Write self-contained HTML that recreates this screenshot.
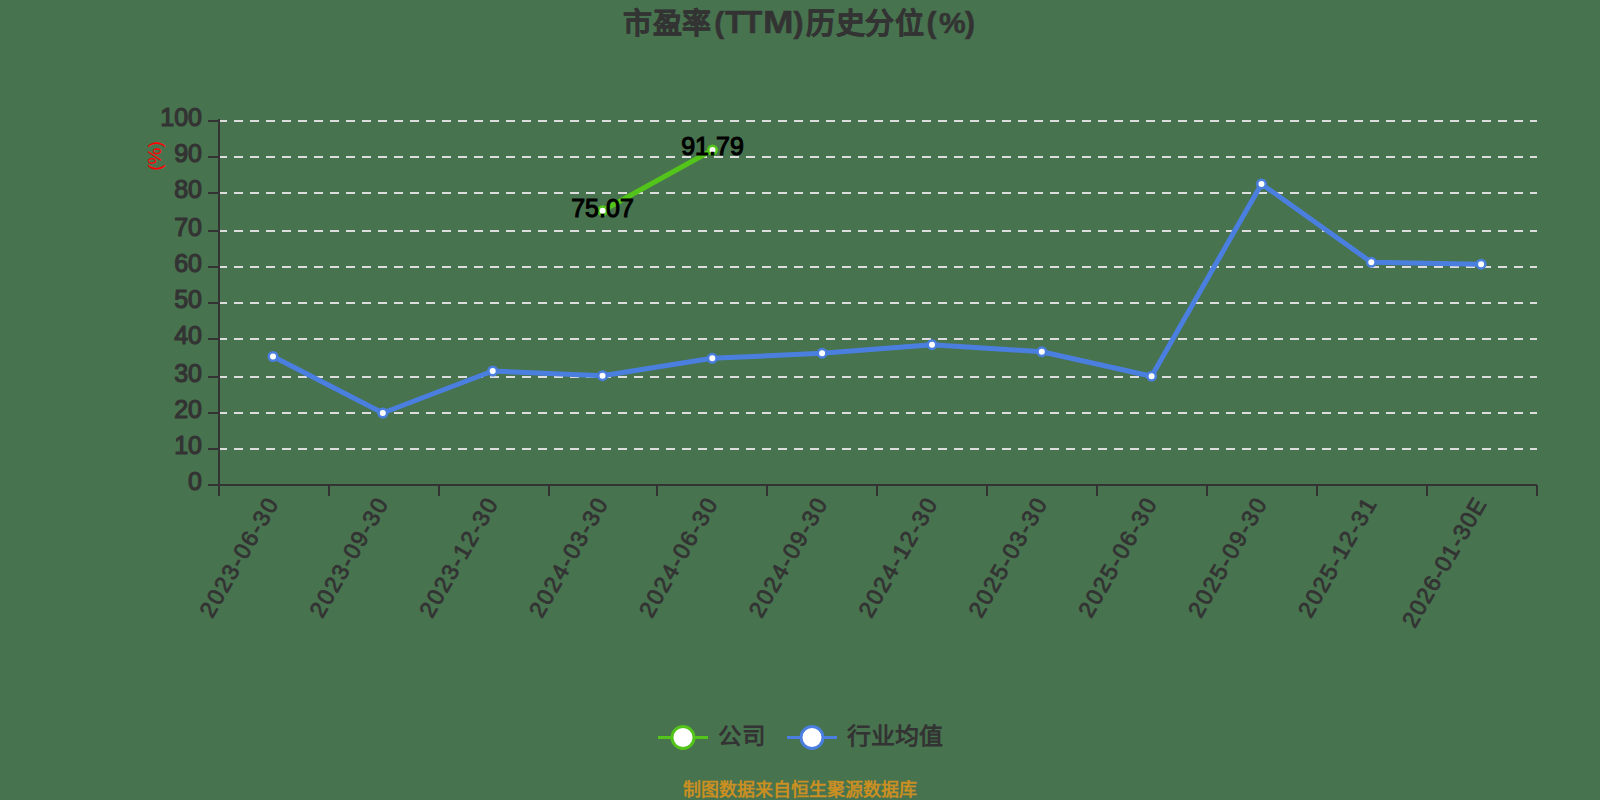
<!DOCTYPE html><html lang="zh-CN"><head><meta charset="utf-8"><style>
html,body{margin:0;padding:0;width:1600px;height:800px;overflow:hidden;background:#48734f}
svg{display:block;font-family:"Liberation Sans",sans-serif}
</style></head><body>
<svg width="1600" height="800" viewBox="0 0 1600 800">
<rect width="1600" height="800" fill="#48734f"/>
<text font-weight="bold" fill="#333" stroke="#333" stroke-width="0.5"><tspan x="623.4" y="34.0" font-size="29">市</tspan><tspan x="653.0" y="34.0" font-size="29">盈</tspan><tspan x="682.0" y="34.0" font-size="29">率</tspan><tspan x="714.3" y="33.0" font-size="30">(</tspan><tspan x="725.0" y="33.0" font-size="32">T</tspan><tspan x="742.8" y="33.0" font-size="32">T</tspan><tspan x="793.4" y="33.0" font-size="30">)</tspan><tspan x="806.2" y="34.0" font-size="29">历</tspan><tspan x="835.6" y="34.0" font-size="29">史</tspan><tspan x="865.0" y="34.0" font-size="29">分</tspan><tspan x="895.0" y="34.0" font-size="29">位</tspan><tspan x="926.5" y="33.0" font-size="30">(</tspan><tspan x="939.0" y="33.0" font-size="30">%</tspan><tspan x="965.0" y="33.0" font-size="30">)</tspan></text>
<text x="763" y="33" font-size="32" font-weight="bold" fill="#333" stroke="#333" stroke-width="0.5" textLength="30.5" lengthAdjust="spacingAndGlyphs">M</text>
<line x1="218" y1="449.00" x2="1537" y2="449.00" stroke="#dddddd" stroke-width="2" stroke-dasharray="9 7"/>
<line x1="218" y1="413.00" x2="1537" y2="413.00" stroke="#dddddd" stroke-width="2" stroke-dasharray="9 7"/>
<line x1="218" y1="377.00" x2="1537" y2="377.00" stroke="#dddddd" stroke-width="2" stroke-dasharray="9 7"/>
<line x1="218" y1="339.00" x2="1537" y2="339.00" stroke="#dddddd" stroke-width="2" stroke-dasharray="9 7"/>
<line x1="218" y1="303.00" x2="1537" y2="303.00" stroke="#dddddd" stroke-width="2" stroke-dasharray="9 7"/>
<line x1="218" y1="267.00" x2="1537" y2="267.00" stroke="#dddddd" stroke-width="2" stroke-dasharray="9 7"/>
<line x1="218" y1="231.00" x2="1537" y2="231.00" stroke="#dddddd" stroke-width="2" stroke-dasharray="9 7"/>
<line x1="218" y1="193.00" x2="1537" y2="193.00" stroke="#dddddd" stroke-width="2" stroke-dasharray="9 7"/>
<line x1="218" y1="157.00" x2="1537" y2="157.00" stroke="#dddddd" stroke-width="2" stroke-dasharray="9 7"/>
<line x1="218" y1="121.00" x2="1537" y2="121.00" stroke="#dddddd" stroke-width="2" stroke-dasharray="9 7"/>
<g shape-rendering="crispEdges" stroke="#333333" stroke-width="2">
<line x1="219" y1="119" x2="219" y2="486"/>
<line x1="208" y1="485.00" x2="219" y2="485.00"/>
<line x1="208" y1="449.00" x2="219" y2="449.00"/>
<line x1="208" y1="413.00" x2="219" y2="413.00"/>
<line x1="208" y1="377.00" x2="219" y2="377.00"/>
<line x1="208" y1="339.00" x2="219" y2="339.00"/>
<line x1="208" y1="303.00" x2="219" y2="303.00"/>
<line x1="208" y1="267.00" x2="219" y2="267.00"/>
<line x1="208" y1="231.00" x2="219" y2="231.00"/>
<line x1="208" y1="193.00" x2="219" y2="193.00"/>
<line x1="208" y1="157.00" x2="219" y2="157.00"/>
<line x1="208" y1="121.00" x2="219" y2="121.00"/>
<line x1="218" y1="485" x2="1537" y2="485"/>
<line x1="219" y1="485" x2="219" y2="496"/>
<line x1="329" y1="485" x2="329" y2="496"/>
<line x1="439" y1="485" x2="439" y2="496"/>
<line x1="549" y1="485" x2="549" y2="496"/>
<line x1="657" y1="485" x2="657" y2="496"/>
<line x1="767" y1="485" x2="767" y2="496"/>
<line x1="877" y1="485" x2="877" y2="496"/>
<line x1="987" y1="485" x2="987" y2="496"/>
<line x1="1097" y1="485" x2="1097" y2="496"/>
<line x1="1207" y1="485" x2="1207" y2="496"/>
<line x1="1317" y1="485" x2="1317" y2="496"/>
<line x1="1427" y1="485" x2="1427" y2="496"/>
<line x1="1537" y1="485" x2="1537" y2="496"/>
</g>
<text x="202" y="490.00" text-anchor="end" font-size="25" fill="#333333" stroke="#333333" stroke-width="1.2">0</text>
<text x="202" y="454.00" text-anchor="end" font-size="25" fill="#333333" stroke="#333333" stroke-width="1.2">10</text>
<text x="202" y="418.00" text-anchor="end" font-size="25" fill="#333333" stroke="#333333" stroke-width="1.2">20</text>
<text x="202" y="382.00" text-anchor="end" font-size="25" fill="#333333" stroke="#333333" stroke-width="1.2">30</text>
<text x="202" y="344.00" text-anchor="end" font-size="25" fill="#333333" stroke="#333333" stroke-width="1.2">40</text>
<text x="202" y="308.00" text-anchor="end" font-size="25" fill="#333333" stroke="#333333" stroke-width="1.2">50</text>
<text x="202" y="272.00" text-anchor="end" font-size="25" fill="#333333" stroke="#333333" stroke-width="1.2">60</text>
<text x="202" y="236.00" text-anchor="end" font-size="25" fill="#333333" stroke="#333333" stroke-width="1.2">70</text>
<text x="202" y="198.00" text-anchor="end" font-size="25" fill="#333333" stroke="#333333" stroke-width="1.2">80</text>
<text x="202" y="162.00" text-anchor="end" font-size="25" fill="#333333" stroke="#333333" stroke-width="1.2">90</text>
<text x="202" y="126.00" text-anchor="end" font-size="25" fill="#333333" stroke="#333333" stroke-width="1.2">100</text>
<text transform="translate(161,156) rotate(-90)" text-anchor="middle" font-size="19" fill="#ff0000">(%)</text>
<text transform="translate(271.92,500.00) rotate(-60)" text-anchor="end" font-size="23.0" fill="#333333" stroke="#333333" stroke-width="0.8" dy="8" textLength="133.0" lengthAdjust="spacing">2023-06-30</text>
<text transform="translate(381.75,500.00) rotate(-60)" text-anchor="end" font-size="23.0" fill="#333333" stroke="#333333" stroke-width="0.8" dy="8" textLength="133.0" lengthAdjust="spacing">2023-09-30</text>
<text transform="translate(491.58,500.00) rotate(-60)" text-anchor="end" font-size="23.0" fill="#333333" stroke="#333333" stroke-width="0.8" dy="8" textLength="133.0" lengthAdjust="spacing">2023-12-30</text>
<text transform="translate(601.42,500.00) rotate(-60)" text-anchor="end" font-size="23.0" fill="#333333" stroke="#333333" stroke-width="0.8" dy="8" textLength="133.0" lengthAdjust="spacing">2024-03-30</text>
<text transform="translate(711.25,500.00) rotate(-60)" text-anchor="end" font-size="23.0" fill="#333333" stroke="#333333" stroke-width="0.8" dy="8" textLength="133.0" lengthAdjust="spacing">2024-06-30</text>
<text transform="translate(821.08,500.00) rotate(-60)" text-anchor="end" font-size="23.0" fill="#333333" stroke="#333333" stroke-width="0.8" dy="8" textLength="133.0" lengthAdjust="spacing">2024-09-30</text>
<text transform="translate(930.92,500.00) rotate(-60)" text-anchor="end" font-size="23.0" fill="#333333" stroke="#333333" stroke-width="0.8" dy="8" textLength="133.0" lengthAdjust="spacing">2024-12-30</text>
<text transform="translate(1040.75,500.00) rotate(-60)" text-anchor="end" font-size="23.0" fill="#333333" stroke="#333333" stroke-width="0.8" dy="8" textLength="133.0" lengthAdjust="spacing">2025-03-30</text>
<text transform="translate(1150.58,500.00) rotate(-60)" text-anchor="end" font-size="23.0" fill="#333333" stroke="#333333" stroke-width="0.8" dy="8" textLength="133.0" lengthAdjust="spacing">2025-06-30</text>
<text transform="translate(1260.42,500.00) rotate(-60)" text-anchor="end" font-size="23.0" fill="#333333" stroke="#333333" stroke-width="0.8" dy="8" textLength="133.0" lengthAdjust="spacing">2025-09-30</text>
<text transform="translate(1370.25,500.00) rotate(-60)" text-anchor="end" font-size="23.0" fill="#333333" stroke="#333333" stroke-width="0.8" dy="8" textLength="133.0" lengthAdjust="spacing">2025-12-31</text>
<text transform="translate(1480.08,500.00) rotate(-60)" text-anchor="end" font-size="23.0" fill="#333333" stroke="#333333" stroke-width="0.8" dy="8" textLength="144.5" lengthAdjust="spacing">2026-01-30E</text>
<polyline points="273.0,356.5 382.8,413.0 492.7,371.0 602.5,375.7 712.3,358.3 822.1,353.2 932.0,344.7 1041.8,351.7 1151.6,376.2 1261.5,184.0 1371.3,262.2 1481.1,264.2" fill="none" stroke="#4a7fdf" stroke-width="5" stroke-linejoin="round"/>
<circle cx="273.0" cy="356.5" r="4.25" fill="#fff" stroke="#4a7fdf" stroke-width="2.5"/>
<circle cx="382.8" cy="413.0" r="4.25" fill="#fff" stroke="#4a7fdf" stroke-width="2.5"/>
<circle cx="492.7" cy="371.0" r="4.25" fill="#fff" stroke="#4a7fdf" stroke-width="2.5"/>
<circle cx="602.5" cy="375.7" r="4.25" fill="#fff" stroke="#4a7fdf" stroke-width="2.5"/>
<circle cx="712.3" cy="358.3" r="4.25" fill="#fff" stroke="#4a7fdf" stroke-width="2.5"/>
<circle cx="822.1" cy="353.2" r="4.25" fill="#fff" stroke="#4a7fdf" stroke-width="2.5"/>
<circle cx="932.0" cy="344.7" r="4.25" fill="#fff" stroke="#4a7fdf" stroke-width="2.5"/>
<circle cx="1041.8" cy="351.7" r="4.25" fill="#fff" stroke="#4a7fdf" stroke-width="2.5"/>
<circle cx="1151.6" cy="376.2" r="4.25" fill="#fff" stroke="#4a7fdf" stroke-width="2.5"/>
<circle cx="1261.5" cy="184.0" r="4.25" fill="#fff" stroke="#4a7fdf" stroke-width="2.5"/>
<circle cx="1371.3" cy="262.2" r="4.25" fill="#fff" stroke="#4a7fdf" stroke-width="2.5"/>
<circle cx="1481.1" cy="264.2" r="4.25" fill="#fff" stroke="#4a7fdf" stroke-width="2.5"/>
<polyline points="602.6,210.8 712.5,150.0" fill="none" stroke="#52c41a" stroke-width="5" stroke-linejoin="round"/>
<circle cx="602.6" cy="210.8" r="4.25" fill="#fff" stroke="#52c41a" stroke-width="2.5"/>
<circle cx="712.5" cy="150.0" r="4.25" fill="#fff" stroke="#52c41a" stroke-width="2.5"/>
<text x="602.5" y="217" text-anchor="middle" font-size="25" fill="#000" stroke="#000" stroke-width="1.1">75.07</text>
<text x="712.5" y="155" text-anchor="middle" font-size="25" fill="#000" stroke="#000" stroke-width="1.1">91.79</text>
<line x1="658" y1="737.5" x2="708" y2="737.5" stroke="#52c41a" stroke-width="3"/>
<circle cx="683" cy="737.5" r="11" fill="#fff" stroke="#52c41a" stroke-width="3"/>
<text x="718" y="743.5" font-size="23" font-weight="bold" fill="#333" textLength="47" lengthAdjust="spacingAndGlyphs">公司</text>
<line x1="787" y1="737.5" x2="837" y2="737.5" stroke="#4a7fdf" stroke-width="3"/>
<circle cx="812" cy="737.5" r="11" fill="#fff" stroke="#4a7fdf" stroke-width="3"/>
<text x="847" y="743.5" font-size="23" font-weight="bold" fill="#333" textLength="96" lengthAdjust="spacingAndGlyphs">行业均值</text>
<text x="800" y="796" text-anchor="middle" font-size="18" font-weight="bold" fill="#c98f22">制图数据来自恒生聚源数据库</text>
</svg></body></html>
